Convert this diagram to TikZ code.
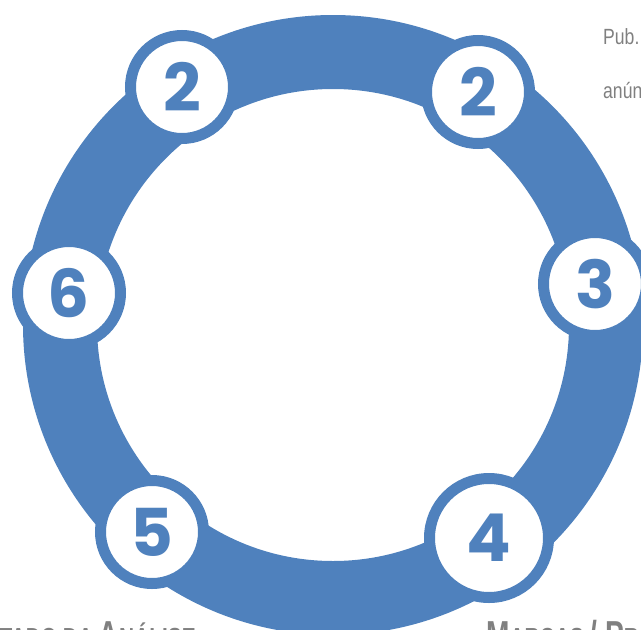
\documentclass[tikz,border=0pt]{standalone}
\usepackage{fontspec}
\newfontfamily\digitfont{Poppins}
\newfontfamily\narrowfont[FakeStretch=0.8]{Liberation Sans}
\newfontfamily\narrowbold[FakeStretch=0.72]{Liberation Sans Bold}
\definecolor{ringblue}{RGB}{79,129,189}
\definecolor{textgrey}{RGB}{128,128,128}
\newcommand{\bigsmall}[2]{{\fontsize{39}{39}\selectfont #1}{\fontsize{29}{29}\selectfont #2}}
\tikzset{
  ring/.style={draw=ringblue, line width=74pt},
  stepcirc/.style={circle, draw=ringblue, fill=white, line width=11pt,
    minimum size=103pt, inner sep=0pt, text=ringblue,
    font=\digitfont\bfseries\fontsize{66}{66}\selectfont},
  bigstep/.style={stepcirc, minimum size=119pt},
  note/.style={text=textgrey, inner sep=0pt, font=\narrowfont\fontsize{22}{22}\selectfont},
  caption/.style={text=textgrey, inner sep=0pt, font=\narrowbold\fontsize{29}{29}\selectfont}
}
\begin{document}
\begin{tikzpicture}[x=1pt, y=-1pt]
  \useasboundingbox (0,0) rectangle (641,630);
  \clip (0,0) rectangle (641,630);
  \coordinate (ctr) at (333,325);
  \draw[ring] (ctr) circle (273);
  \node[stepcirc] (n1) at (182,87) {2};
  \node[stepcirc] (n2) at (478,92) {2};
  \node[stepcirc] (n3) at (595,284) {3};
  \node[bigstep] (n4) at (489,538) {4};
  \node[stepcirc] (n5) at (152,532) {5};
  \node[stepcirc] (n6) at (69,293) {6};
  \node[note, anchor=base west] (pub) at (603,44) {Pub.};
  \node[note, anchor=base west] (anun) at (603,98) {anúncios};
  \node[caption, anchor=base east] (res) at (196,648)
    {\bigsmall{R}{ESULTADO DA }\bigsmall{A}{NÁLISE}};
  \node[caption, anchor=base west] (marcas) at (486,648)
    {\bigsmall{M}{ARCAS }\bigsmall{/ P}{RODUTOS}};
\end{tikzpicture}
\end{document}
